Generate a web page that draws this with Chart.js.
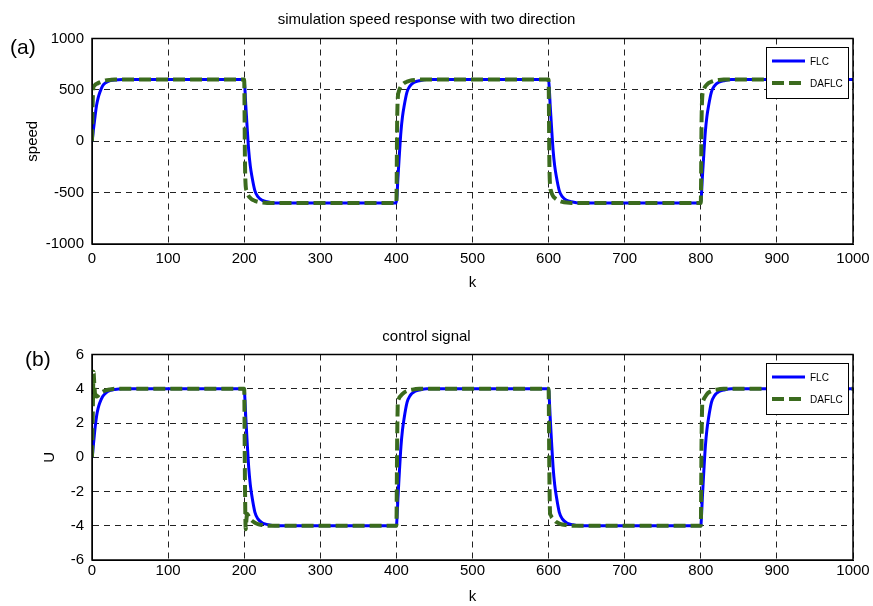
<!DOCTYPE html>
<html>
<head>
<meta charset="utf-8">
<script src="https://cdn.jsdelivr.net/npm/chart.js@4/dist/chart.umd.min.js"></script>
<style>
  html, body { margin: 0; padding: 0; background: #fff; }
  canvas { display: block; }
</style>
</head>
<body>
<canvas id="speedChart" width="873" height="303"></canvas>
<canvas id="signalChart" width="873" height="303"></canvas>
<script>
// sample positions (k), denser right after each direction change
var k = [
  0, 1, 2, 3, 4, 6, 8, 10, 14, 18, 24, 30, 40,
  200, 201, 202, 203, 204, 206, 208, 210, 214, 218, 224, 230, 240,
  400, 401, 402, 403, 404, 406, 408, 410, 414, 418, 424, 430, 440,
  600, 601, 602, 603, 604, 606, 608, 610, 614, 618, 624, 630, 640,
  800, 801, 802, 803, 804, 806, 808, 810, 814, 818, 824, 830, 840,
  1000
];

var flcSpeed = [
  0, 50, 120, 180, 240, 350, 420, 470, 540, 570, 590, 597, 600,
  600, 504, 360, 240, 120, -96, -240, -336, -480, -540, -576, -588, -600,
  -600, -504, -360, -240, -120, 96, 240, 336, 480, 540, 576, 588, 600,
  600, 504, 360, 240, 120, -96, -240, -336, -480, -540, -576, -588, -600,
  -600, -504, -360, -240, -120, 96, 240, 336, 480, 540, 576, 588, 600,
  600
];
var daflcSpeed = [
  0, 400, 530, 540, 548, 558, 566, 573, 584, 592, 597, 600, 600,
  600, -200, -440, -480, -505, -535, -552, -565, -580, -590, -597, -600, -600,
  -600, 200, 440, 480, 505, 535, 552, 565, 580, 590, 597, 600, 600,
  600, -200, -440, -480, -505, -535, -552, -565, -580, -590, -597, -600, -600,
  -600, 200, 440, 480, 505, 535, 552, 565, 580, 590, 597, 600, 600,
  600
];

var flcU = [
  0, 0.3, 0.8, 1.25, 1.7, 2.4, 2.85, 3.15, 3.55, 3.75, 3.9, 3.96, 4,
  4, 3.36, 2.4, 1.6, 0.8, -0.64, -1.6, -2.24, -3.2, -3.6, -3.84, -3.92, -4,
  -4, -3.36, -2.4, -1.6, -0.8, 0.64, 1.6, 2.24, 3.2, 3.6, 3.84, 3.92, 4,
  4, 3.36, 2.4, 1.6, 0.8, -0.64, -1.6, -2.24, -3.2, -3.6, -3.84, -3.92, -4,
  -4, -3.36, -2.4, -1.6, -0.8, 0.64, 1.6, 2.24, 3.2, 3.6, 3.84, 3.92, 4,
  4
];
var daflcU = [
  0, 2.5, 5.0, 4.3, 3.7, 3.55, 3.6, 3.7, 3.82, 3.9, 3.96, 4, 4,
  4, -1.5, -4.2, -3.6, -3.3, -3.45, -3.6, -3.7, -3.82, -3.9, -3.96, -4, -4,
  -4, 1.0, 3.3, 3.4, 3.5, 3.6, 3.7, 3.78, 3.87, 3.93, 3.97, 4, 4,
  4, -1.0, -3.3, -3.4, -3.5, -3.6, -3.7, -3.78, -3.87, -3.93, -3.97, -4, -4,
  -4, 1.0, 3.2, 3.3, 3.4, 3.55, 3.68, 3.77, 3.86, 3.93, 3.97, 4, 4,
  4
];

var xTicksStep = 100;
var FONT = 'Liberation Sans, Arial, Helvetica, sans-serif';
var BLUE = '#0000ff';
var GREEN = '#3b6b1e';

function points(ys) {
  return k.map(function (x, i) { return {x: x, y: ys[i]}; });
}

// matlab style closed box around the axes
var boxPlugin = {
  id: 'box',
  afterDraw: function (chart) {
    var a = chart.chartArea, ctx = chart.ctx;
    ctx.save();
    ctx.strokeStyle = '#000';
    ctx.lineWidth = 1.5;
    ctx.strokeRect(a.left, a.top, a.right - a.left, a.bottom - a.top);
    ctx.restore();
  }
};

// "(a)" / "(b)" panel tags
var tagPlugin = {
  id: 'tag',
  afterDraw: function (chart, args, opts) {
    var ctx = chart.ctx;
    ctx.save();
    ctx.fillStyle = '#000';
    ctx.font = '21px ' + FONT;
    ctx.textBaseline = 'middle';
    ctx.textAlign = 'left';
    ctx.fillText(opts.text, opts.x, opts.y);
    ctx.restore();
  }
};

// legend box in the upper right corner of the axes
var boxLegend = {
  id: 'boxLegend',
  afterDraw: function (chart) {
    var a = chart.chartArea, ctx = chart.ctx;
    var w = 82, h = 51;
    var x0 = a.right - 87, y0 = a.top + 8.5;
    ctx.save();
    ctx.fillStyle = '#fff';
    ctx.fillRect(x0, y0, w, h);
    ctx.strokeStyle = '#000';
    ctx.lineWidth = 1;
    ctx.strokeRect(x0 + 0.5, y0 + 0.5, w, h);
    chart.data.datasets.forEach(function (ds, i) {
      var y = y0 + 14 + i * 22;
      ctx.strokeStyle = ds.borderColor;
      ctx.lineWidth = ds.borderWidth;
      ctx.setLineDash(ds.borderDash || []);
      ctx.beginPath();
      ctx.moveTo(x0 + 6, y);
      ctx.lineTo(x0 + 39, y);
      ctx.stroke();
      ctx.setLineDash([]);
      ctx.fillStyle = '#000';
      ctx.font = '10px ' + FONT;
      ctx.textBaseline = 'middle';
      ctx.fillText(ds.label, x0 + 44, y + 1);
    });
    ctx.restore();
  }
};

function makeChart(id, flc, daflc, s) {
  return new Chart(document.getElementById(id).getContext('2d'), {
    type: 'line',
    data: {
      datasets: [
        {
          label: 'FLC',
          data: points(flc),
          borderColor: BLUE,
          borderWidth: 3,
          pointRadius: 0,
          cubicInterpolationMode: 'monotone',
          order: 2
        },
        {
          label: 'DAFLC',
          data: points(daflc),
          borderColor: GREEN,
          borderWidth: 4,
          borderDash: [12, 5],
          pointRadius: 0,
          cubicInterpolationMode: 'monotone',
          order: 1
        }
      ]
    },
    options: {
      responsive: false,
      animation: false,
      layout: {padding: {left: 0, right: 20, top: 0, bottom: 0}},
      plugins: {
        legend: {display: false},
        tooltip: {enabled: false},
        title: {
          display: true,
          text: s.title,
          color: '#000',
          font: {family: FONT, size: 15, weight: 'normal'},
          padding: s.titlePad
        },
        tag: s.tag
      },
      scales: {
        x: {
          type: 'linear',
          min: 0,
          max: 1000,
          afterFit: function (sc) {
            sc.height = s.xHeight;
            sc.paddingLeft = 0;
            sc.paddingRight = 0;
          },
          ticks: {
            stepSize: xTicksStep,
            color: '#000',
            padding: s.xTickPad,
            maxRotation: 0,
            font: {family: FONT, size: 15},
            callback: function (v) { return String(v); }
          },
          grid: {color: '#222', lineWidth: 1, drawTicks: false},
          border: {color: '#000', dash: [6, 5]},
          title: {
            display: true,
            text: 'k',
            color: '#000',
            font: {family: FONT, size: 15},
            padding: {top: 0, bottom: s.kPad}
          }
        },
        y: {
          min: s.yMin,
          max: s.yMax,
          afterFit: function (sc) {
            sc.width = 92;
            sc.paddingTop = 0;
            sc.paddingBottom = 0;
          },
          ticks: {
            stepSize: s.yStep,
            color: '#000',
            padding: 8,
            font: {family: FONT, size: 15},
            callback: function (v) { return String(v); }
          },
          grid: {color: '#222', lineWidth: 1, drawTicks: false},
          border: {color: '#000', dash: [6, 5]},
          title: {
            display: true,
            text: s.yTitle,
            color: '#000',
            font: {family: FONT, size: 15},
            padding: {top: s.yTitlePad, bottom: 0}
          }
        }
      }
    },
    plugins: [boxPlugin, boxLegend, tagPlugin]
  });
}

makeChart('speedChart', flcSpeed, daflcSpeed, {
  title: 'simulation speed response with two direction',
  titlePad: {top: 11, bottom: 9.5},
  xHeight: 59,
  xTickPad: 6,
  kPad: 11,
  yMin: -1000, yMax: 1000, yStep: 500,
  yTitle: 'speed',
  yTitlePad: 24,
  tag: {text: '(a)', x: 10, y: 48}
});

makeChart('signalChart', flcU, daflcU, {
  title: 'control signal',
  titlePad: {top: 25, bottom: 8.5},
  xHeight: 46,
  xTickPad: 2,
  kPad: 0,
  yMin: -6, yMax: 6, yStep: 2,
  yTitle: 'U',
  yTitlePad: 41,
  tag: {text: '(b)', x: 25, y: 57}
});
</script>
</body>
</html>
